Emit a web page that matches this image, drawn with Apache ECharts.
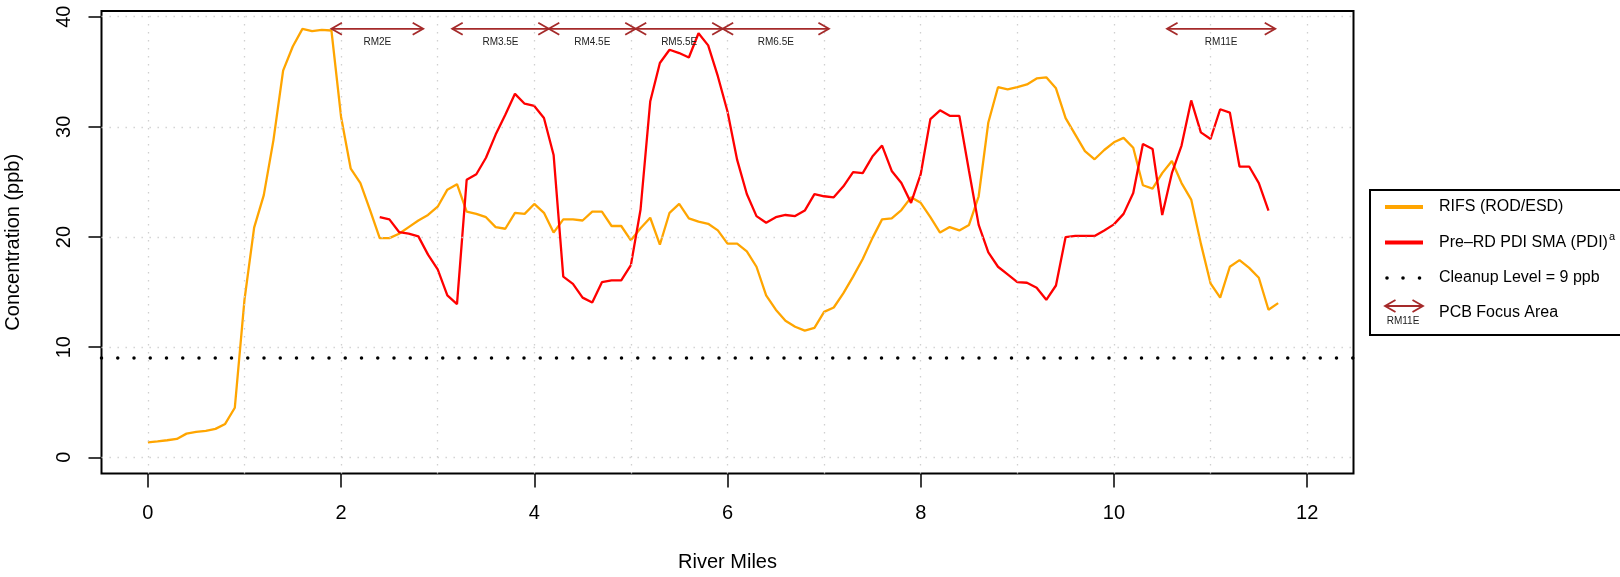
<!DOCTYPE html>
<html><head><meta charset="utf-8">
<script src="https://cdn.jsdelivr.net/npm/echarts@6/dist/echarts.min.js"></script>
<style>html,body{margin:0;padding:0;background:#fff}#c{width:1620px;height:577px}</style>
</head><body><div id="c"></div><script>
// ---- data ----
const rifsMiles = [0.0,0.1,0.2,0.3,0.4,0.5,0.6,0.7,0.8,0.9,1.0,1.1,1.2,1.3,1.4,1.5,1.6,1.7,1.8,1.9,
  2.0,2.1,2.2,2.3,2.4,2.5,2.6,2.7,2.8,2.9,3.0,3.1,3.2,3.3,3.4,3.5,3.6,3.7,3.8,3.9,
  4.0,4.1,4.2,4.3,4.4,4.5,4.6,4.7,4.8,4.9,5.0,5.1,5.2,5.3,5.4,5.5,5.6,5.7,5.8,5.9,
  6.0,6.1,6.2,6.3,6.4,6.5,6.6,6.7,6.8,6.9,7.0,7.1,7.2,7.3,7.4,7.5,7.6,7.7,7.8,7.9,
  8.0,8.1,8.2,8.3,8.4,8.5,8.6,8.7,8.8,8.9,9.0,9.1,9.2,9.3,9.4,9.5,9.6,9.7,9.8,9.9,
  10.0,10.1,10.2,10.3,10.4,10.5,10.6,10.7,10.8,10.9,11.0,11.1,11.2,11.3,11.4,11.5,11.6,11.7];
const rifsConc = [1.36,1.45,1.55,1.67,2.15,2.3,2.4,2.58,3.03,4.5,14.3,20.85,23.8,28.8,35.1,37.3,38.9,38.7,38.8,38.75,
  30.9,26.2,24.9,22.45,19.9,19.9,20.3,20.9,21.5,22.0,22.75,24.3,24.8,22.3,22.1,21.8,20.9,20.75,22.2,22.1,
  23.0,22.2,20.4,21.6,21.6,21.5,22.3,22.3,21.0,21.0,19.7,20.8,21.75,19.3,22.2,23.0,21.7,21.4,21.2,20.6,
  19.4,19.4,18.7,17.3,14.7,13.4,12.4,11.85,11.5,11.75,13.2,13.6,14.9,16.4,18.0,19.9,21.6,21.7,22.45,23.6,
  23.1,21.8,20.4,20.9,20.6,21.1,23.7,30.4,33.6,33.4,33.6,33.85,34.4,34.5,33.5,30.8,29.3,27.8,27.06,27.9,
  28.6,29.0,28.1,24.7,24.4,25.8,26.9,24.9,23.4,19.4,15.8,14.5,17.3,17.9,17.2,16.3,13.4,14.0];
const pdiMiles = [2.4,2.5,2.6,2.7,2.8,2.9,3.0,3.1,3.2,3.3,3.4,3.5,3.6,3.7,3.8,3.9,
  4.0,4.1,4.2,4.3,4.4,4.5,4.6,4.7,4.8,4.9,5.0,5.1,5.2,5.3,5.4,5.5,5.6,5.7,5.8,5.9,
  6.0,6.1,6.2,6.3,6.4,6.5,6.6,6.7,6.8,6.9,7.0,7.1,7.2,7.3,7.4,7.5,7.6,7.7,7.8,7.9,
  8.0,8.1,8.2,8.3,8.4,8.5,8.6,8.7,8.8,8.9,9.0,9.1,9.2,9.3,9.4,9.5,9.6,9.7,9.8,9.9,
  10.0,10.1,10.2,10.3,10.4,10.5,10.6,10.7,10.8,10.9,11.0,11.1,11.2,11.3,11.4,11.5,11.6];
const pdiConc = [21.8,21.6,20.45,20.3,20.06,18.4,17.06,14.7,13.9,25.2,25.7,27.2,29.3,31.1,33.0,32.1,
  31.9,30.8,27.45,16.4,15.75,14.5,14.06,15.9,16.06,16.06,17.45,22.5,32.3,35.8,37.0,36.7,36.3,38.5,37.4,34.6,
  31.4,27.0,23.9,21.9,21.3,21.8,22.0,21.9,22.4,23.9,23.7,23.6,24.6,25.9,25.8,27.3,28.3,26.0,24.9,23.1,
  25.7,30.7,31.5,31.0,31.0,26.0,21.1,18.6,17.3,16.6,15.9,15.85,15.4,14.3,15.6,20.0,20.1,20.1,20.1,20.6,
  21.15,22.1,24.0,28.45,28.0,22.0,25.8,28.3,32.4,29.5,28.9,31.6,31.3,26.4,26.4,24.9,22.4];
const cleanupLevel = 9;
const focusNames = ['RM2E','RM3.5E','RM4.5E','RM5.5E','RM6.5E','RM11E'];
const focusStart = [1.9,3.15,4.15,5.05,5.95,10.55];
const focusEnd   = [2.85,4.15,5.05,5.95,7.05,11.67];
const xTickVals = [0,2,4,6,8,10,12];
const yTickVals = [0,10,20,30,40];
const xGridVals = [0,1,2,3,4,5,6,7,8,9,10,11,12];
const legendTexts = ['RIFS (ROD/ESD)','Pre\u2013RD PDI SMA (PDI)','Cleanup Level = 9 ppb','PCB Focus Area'];

// ---- styles ----
const FONT = '"Liberation Sans", Arial, Helvetica, sans-serif';
const ORANGE = '#FFA500', RED = '#FF0000', BROWN = '#A52A2A';
const ARROW_Y = 38.9, LABEL_Y = 37.7;

function arrowShapes(a, b, st, hx, hy, z) {
  const o = z === undefined ? {} : {z: z};
  return [
    Object.assign({type:'line', shape:{x1:a[0],y1:a[1],x2:b[0],y2:b[1]}, style:st}, o),
    Object.assign({type:'polyline', shape:{points:[[a[0]+hx,a[1]-hy],[a[0],a[1]],[a[0]+hx,a[1]+hy]]}, style:st}, o),
    Object.assign({type:'polyline', shape:{points:[[b[0]-hx,b[1]-hy],[b[0],b[1]],[b[0]-hx,b[1]+hy]]}, style:st}, o)
  ];
}

const chart = echarts.init(document.getElementById('c'), null, {renderer:'canvas'});
const LX = 1370, LY = 190;
const option = {
  animation: false,
  backgroundColor: '#fff',
  grid: {left: 101.5, right: 266.5, top: 11, bottom: 103.5, containLabel: false, outerBoundsMode: 'none',
    show: true, borderColor: '#000', borderWidth: 2, backgroundColor: 'transparent'},
  xAxis: {
    type: 'value', min: -0.48, max: 12.48,
    name: 'River Miles', nameLocation: 'middle', nameGap: 79,
    nameTextStyle: {fontFamily: FONT, fontSize: 20, color: '#000'},
    axisLine: {show: false, onZero: false},
    splitLine: {show: false},
    axisTick: {show: true, inside: false, length: 14, customValues: xTickVals, lineStyle: {color: '#000', width: 1.5}},
    axisLabel: {customValues: xTickVals, margin: 30, fontFamily: FONT, fontSize: 20, color: '#000'}
  },
  yAxis: {
    type: 'value', min: -1.47, max: 40.52,
    name: 'Concentration (ppb)', nameLocation: 'middle', nameGap: 78,
    nameTextStyle: {fontFamily: FONT, fontSize: 20, color: '#000'},
    axisLine: {show: false, onZero: false},
    splitLine: {show: false},
    axisTick: {show: true, inside: false, length: 13, customValues: yTickVals, lineStyle: {color: '#000', width: 1.5}},
    axisLabel: {customValues: yTickVals, rotate: 90, margin: 27.5, fontFamily: FONT, fontSize: 20, color: '#000'}
  },
  series: [
    {
      type: 'line', name: 'gridlines', data: [], silent: true, z: 1,
      markLine: {
        silent: true, symbol: ['none','none'], label: {show: false}, animation: false,
        lineStyle: {color: '#d0d0d0', width: 1.3, type: [1.4, 6.6]},
        emphasis: {disabled: true},
        data: xGridVals.map(v => ({xAxis: v})).concat(yTickVals.map(v => ({yAxis: v})))
      }
    },
    {
      type: 'line', name: 'Cleanup Level = 9 ppb', data: [], silent: true, z: 2,
      markLine: {
        silent: true, symbol: ['none','none'], label: {show: false}, animation: false,
        lineStyle: {color: '#000', width: 3.5, type: [0, 16.25], cap: 'round'},
        emphasis: {disabled: true},
        data: [{yAxis: cleanupLevel}]
      }
    },
    {
      type: 'line', name: 'RIFS (ROD/ESD)', z: 3, showSymbol: false, symbol: 'none',
      lineStyle: {color: ORANGE, width: 2.3}, itemStyle: {color: ORANGE},
      data: rifsMiles.map((m, i) => [m, rifsConc[i]])
    },
    {
      type: 'line', name: 'Pre-RD PDI SMA (PDI)', z: 4, showSymbol: false, symbol: 'none',
      lineStyle: {color: RED, width: 2.3}, itemStyle: {color: RED},
      data: pdiMiles.map((m, i) => [m, pdiConc[i]])
    },
    {
      type: 'custom', name: 'PCB Focus Area', z: 5, silent: true, clip: false,
      encode: {x: [0, 1]},
      data: focusStart.map((s, i) => [s, focusEnd[i]]),
      renderItem: function (params, api) {
        const s = api.value(0), e = api.value(1);
        const a = api.coord([s, ARROW_Y]), b = api.coord([e, ARROW_Y]);
        const t = api.coord([(s + e) / 2, LABEL_Y]);
        const st = {stroke: BROWN, lineWidth: 1.8, fill: null};
        const kids = arrowShapes(a, b, st, 10.5, 6);
        kids.push({type: 'text', x: t[0], y: t[1], style: {text: focusNames[params.dataIndex], fontSize: 10, fontFamily: FONT, fill: '#222', align: 'center', verticalAlign: 'middle'}});
        return {type: 'group', children: kids};
      }
    }
  ],
  graphic: [
    {type: 'rect', z: 100, shape: {x: LX, y: LY, width: 280, height: 145}, style: {fill: '#fff', stroke: '#000', lineWidth: 2}},
    {type: 'line', z: 101, shape: {x1: LX + 15, y1: LY + 17, x2: LX + 53, y2: LY + 17}, style: {stroke: ORANGE, lineWidth: 4}},
    {type: 'line', z: 101, shape: {x1: LX + 15, y1: LY + 52.5, x2: LX + 53, y2: LY + 52.5}, style: {stroke: RED, lineWidth: 4}},
    {type: 'circle', z: 101, shape: {cx: LX + 17, cy: LY + 88, r: 1.8}, style: {fill: '#000'}},
    {type: 'circle', z: 101, shape: {cx: LX + 33, cy: LY + 88, r: 1.8}, style: {fill: '#000'}},
    {type: 'circle', z: 101, shape: {cx: LX + 49.5, cy: LY + 88, r: 1.8}, style: {fill: '#000'}}
  ].concat(arrowShapes([LX + 15, LY + 116], [LX + 53, LY + 116], {stroke: BROWN, lineWidth: 1.8, fill: null}, 10.5, 6, 101)).concat([
    {type: 'text', z: 101, x: LX + 33, y: LY + 131.5, style: {text: 'RM11E', fontSize: 10, fontFamily: FONT, fill: '#222', align: 'center', verticalAlign: 'middle'}},
    {type: 'text', z: 101, x: LX + 69, y: LY + 17, style: {text: legendTexts[0], fontSize: 16, fontFamily: FONT, fill: '#000', verticalAlign: 'middle'}},
    {type: 'text', z: 101, x: LX + 69, y: LY + 52.5, style: {text: '{m|' + legendTexts[1] + '}{s|a}', fontFamily: FONT, fill: '#000', verticalAlign: 'middle',
      rich: {m: {fontSize: 16, fontFamily: FONT, fill: '#000'}, s: {fontSize: 11, fontFamily: FONT, fill: '#000', verticalAlign: 'top', padding: [0, 0, 12, 1]}}}},
    {type: 'text', z: 101, x: LX + 69, y: LY + 88, style: {text: legendTexts[2], fontSize: 16, fontFamily: FONT, fill: '#000', verticalAlign: 'middle'}},
    {type: 'text', z: 101, x: LX + 69, y: LY + 123, style: {text: legendTexts[3], fontSize: 16, fontFamily: FONT, fill: '#000', verticalAlign: 'middle'}}
  ])
};
chart.setOption(option);
</script></body></html>
